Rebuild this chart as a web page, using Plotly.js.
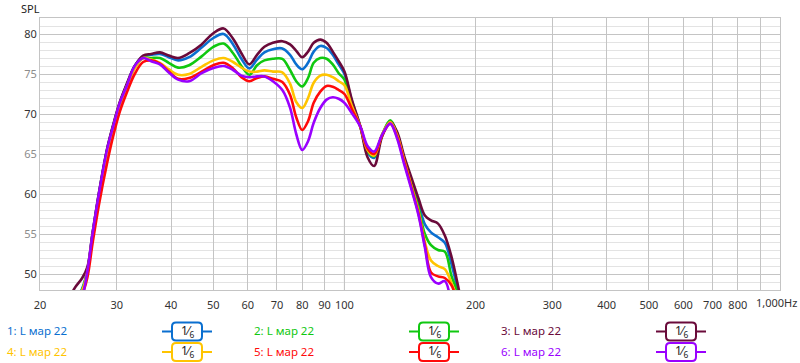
<!DOCTYPE html>
<html><head><meta charset="utf-8">
<script src="https://cdn.plot.ly/plotly-3.0.1.min.js"></script>
<style>html,body{margin:0;padding:0;background:#fff}</style>
</head><body><div id="chart" style="width:800px;height:363px"></div>
<script>
const freq = [22, 24, 25, 25.7, 26.4, 27.3, 28.5, 29.5, 30.5, 31.6, 33, 34.5, 36, 37.7, 39.5, 41.5, 44, 47, 50, 52.8, 55.5, 58, 60.5, 63, 65.5, 68.5, 72, 75, 77.5, 80, 82.5, 85, 88, 91, 94, 97, 100, 104, 108.8, 113, 117, 122, 127.4, 132, 137, 143, 148, 153, 158, 164, 170, 176, 182, 188];

const spl1 = [42, 46.4, 48.2, 50.5, 55.0, 60.0, 65.5, 68.7, 71.4, 73.6, 76.0, 77.2, 77.4, 77.5, 77.1, 76.7, 77.1, 78.3, 79.5, 80.0, 78.7, 76.9, 75.7, 76.8, 77.7, 78.1, 78.2, 77.4, 76.2, 75.6, 76.4, 77.8, 78.5, 78.25, 77.4, 76.2, 75.0, 71.6, 68.4, 65.2, 64.5, 67.3, 69.1, 67.6, 64.5, 61.3, 58.7, 56.2, 55.2, 54.6, 53.9, 51.3, 48.0, 44];
const spl2 = [42, 46.2, 48.0, 50.4, 54.8, 59.8, 65.3, 68.6, 71.3, 73.5, 75.8, 77.0, 77.0, 77.0, 76.4, 75.8, 76.1, 77.2, 78.4, 78.8, 77.6, 76.0, 74.9, 76.1, 76.7, 76.9, 76.9, 75.5, 74.1, 73.45, 74.5, 76.4, 77.0, 76.9, 76.2, 75.1, 74.3, 71.3, 68.4, 65.4, 64.7, 67.4, 69.2, 67.6, 64.4, 61.0, 58.2, 55.0, 53.6, 53.0, 52.8, 49.8, 47.6, 44];
const spl3 = [44, 48.2, 49.5, 50.9, 55.1, 60.1, 65.6, 68.8, 71.5, 73.7, 76.0, 77.3, 77.5, 77.7, 77.3, 77.0, 77.6, 78.7, 80.1, 80.7, 79.4, 77.6, 76.2, 77.4, 78.4, 78.9, 79.1, 78.7, 77.9, 77.1, 77.8, 78.9, 79.3, 78.9, 77.8, 76.6, 75.3, 71.8, 68.4, 64.6, 63.5, 67.2, 69.0, 67.8, 64.8, 61.8, 59.4, 57.3, 56.7, 56.3, 54.8, 52.2, 48.7, 45];
const spl4 = [42, 46.1, 47.9, 50.3, 54.7, 59.6, 65.1, 68.5, 71.2, 73.4, 75.7, 77.0, 76.8, 76.4, 75.6, 74.9, 75.0, 75.9, 76.7, 77.0, 76.5, 75.8, 75.3, 75.3, 75.45, 75.3, 75.2, 73.8, 71.5, 70.75, 72.0, 73.9, 74.8, 74.9, 74.6, 74.1, 73.6, 71.0, 68.4, 65.5, 64.8, 67.4, 69.0, 67.4, 64.3, 60.7, 57.8, 54.0, 51.7, 51.0, 50.6, 48.9, 46.7, 43];
const spl5 = [41, 45.5, 47.4, 49.6, 53.8, 58.6, 63.8, 67.4, 70.3, 72.6, 75.0, 76.5, 76.7, 76.3, 75.3, 74.4, 74.5, 75.3, 76.1, 76.4, 75.7, 74.6, 74.1, 74.5, 74.7, 74.4, 74.0, 72.4, 69.6, 68.0, 69.1, 71.4, 72.8, 73.5, 73.4, 73.0, 72.5, 70.6, 68.4, 65.7, 65.0, 67.3, 68.8, 67.2, 64.1, 60.5, 57.5, 53.6, 50.2, 49.7, 49.5, 48.6, 46.3, 42];
const spl6 = [41, 45.8, 47.3, 50.4, 55.0, 60.0, 65.5, 68.6, 71.4, 73.45, 76.0, 77.0, 76.6, 76.2, 75.2, 74.3, 74.1, 75.1, 75.75, 76.0, 75.5, 74.8, 74.6, 74.7, 74.7, 74.1, 73.0, 70.8, 67.5, 65.5, 66.6, 68.9, 70.75, 71.8, 72.1, 71.9, 71.4, 70.1, 68.4, 66.0, 65.3, 67.4, 68.8, 67.0, 63.8, 60.3, 57.3, 53.3, 49.6, 48.8, 49.1, 46.3, 42, 38];

const seriesNames = ['1: L мар 22', '2: L мар 22', '3: L мар 22', '4: L мар 22', '5: L мар 22', '6: L мар 22'];
const seriesValues = [spl1, spl2, spl3, spl4, spl5, spl6];
const seriesColors = ['#0a6fd0', '#10c810', '#6a0a3a', '#ffc400', '#ff0a0a', '#9a00ff'];
const smoothLabel = '1⁄<sub>6</sub>';

const xTickVals = [20, 30, 40, 50, 60, 70, 80, 90, 100, 200, 300, 400, 500, 600, 700, 800, 900, 1000];
const xTickText = ['20', '30', '40', '50', '60', '70', '80', '90', '100', '200', '300', '400', '500', '600', '700', '800', ' ', ' '];
const yTickVals = [50, 55, 60, 65, 70, 75, 80];
const yTickText = ['50', '55', '60', '65', '70', '75', '80'];

const FONT = 'Noto Sans, Open Sans, sans-serif';
const L = 40, R = 780, T = 18, B = 290;
const X = px => (px - L) / (R - L);
const Y = py => (B - py) / (B - T);

const traces = seriesValues.map((v, i) => ({
  x: freq, y: v, type: 'scatter', mode: 'lines', name: seriesNames[i],
  line: {color: seriesColors[i], width: 2.6, shape: 'spline', smoothing: 1},
  hoverinfo: 'skip'
}));

const shapes = [{
  type: 'line', xref: 'x', yref: 'paper', x0: 100, x1: 100, y0: 0, y1: 1,
  line: {color: '#8a8a8a', width: 1}, layer: 'between'
}];
const annotations = [
  {xref: 'paper', yref: 'paper', x: X(19), y: Y(8.5), xanchor: 'left', yanchor: 'middle', text: 'SPL', showarrow: false, font: {family: FONT, size: 11, color: '#222'}},
  {xref: 'paper', yref: 'paper', x: X(776), y: Y(302), xanchor: 'center', yanchor: 'middle', text: '1,000Hz', showarrow: false, font: {family: FONT, size: 11, color: '#333'}}
];

function roundRect(x0, y0, x1, y1, r) {
  return `M ${X(x0 + r)},${Y(y0)} L ${X(x1 - r)},${Y(y0)} Q ${X(x1)},${Y(y0)} ${X(x1)},${Y(y0 + r)} ` +
    `L ${X(x1)},${Y(y1 - r)} Q ${X(x1)},${Y(y1)} ${X(x1 - r)},${Y(y1)} L ${X(x0 + r)},${Y(y1)} ` +
    `Q ${X(x0)},${Y(y1)} ${X(x0)},${Y(y1 - r)} L ${X(x0)},${Y(y0 + r)} Q ${X(x0)},${Y(y0)} ${X(x0 + r)},${Y(y0)} Z`;
}

seriesNames.forEach((nm, i) => {
  const col = i % 3, row = Math.floor(i / 3);
  const ty = row === 0 ? 331.5 : 352;
  const tx = 5 + col * 247;
  const cx = 187 + col * 247;
  annotations.push({xref: 'paper', yref: 'paper', x: X(tx), y: Y(ty - 1), xanchor: 'left', yanchor: 'middle',
    text: nm, showarrow: false, font: {family: FONT, size: 11.5, color: seriesColors[i]}});
  shapes.push({type: 'line', xref: 'paper', yref: 'paper', x0: X(cx - 25), x1: X(cx + 25), y0: Y(ty), y1: Y(ty),
    line: {color: seriesColors[i], width: 2}, layer: 'above'});
  shapes.push({type: 'path', xref: 'paper', yref: 'paper', path: roundRect(cx - 15, ty - 9, cx + 15, ty + 9, 4),
    fillcolor: '#fff', line: {color: seriesColors[i], width: 2}, layer: 'above'});
  annotations.push({xref: 'paper', yref: 'paper', x: X(cx), y: Y(ty - 1), xanchor: 'center', yanchor: 'middle',
    text: smoothLabel, showarrow: false, font: {family: FONT, size: 12, color: '#222'}});
});

const layout = {
  width: 800, height: 363,
  margin: {l: L, r: 800 - R, t: T, b: 363 - B, pad: 0},
  paper_bgcolor: '#fff', plot_bgcolor: '#fff',
  showlegend: false,
  xaxis: {
    type: 'log', range: [Math.log10(20), Math.log10(1000)],
    tickmode: 'array', tickvals: xTickVals, ticktext: xTickText,
    showgrid: true, gridcolor: '#c4c4c4', gridwidth: 1,
    showline: true, mirror: true, linecolor: '#c4c4c4', linewidth: 1,
    ticks: '', zeroline: false, ticklabelstandoff: 5,
    tickfont: {family: FONT, size: 11, color: '#333'}
  },
  yaxis: {
    range: [48, 82], tickmode: 'array', tickvals: yTickVals,
    ticktext: yTickText.map(t => (parseInt(t) % 10 === 5) ? `<span style="color:#8c8c8c">${t}</span>` : t),
    showgrid: true, gridcolor: '#c4c4c4', gridwidth: 1,
    minor: {tickmode: 'linear', tick0: 0, dtick: 1, showgrid: true, gridcolor: '#e3e3e3', gridwidth: 1, ticks: ''},
    showline: true, mirror: true, linecolor: '#c4c4c4', linewidth: 1,
    ticks: '', zeroline: false,
    tickfont: {family: FONT, size: 11, color: '#333'}
  },
  shapes: shapes,
  annotations: annotations
};

Plotly.newPlot('chart', traces, layout, {staticPlot: true, displayModeBar: false});
</script></body></html>
